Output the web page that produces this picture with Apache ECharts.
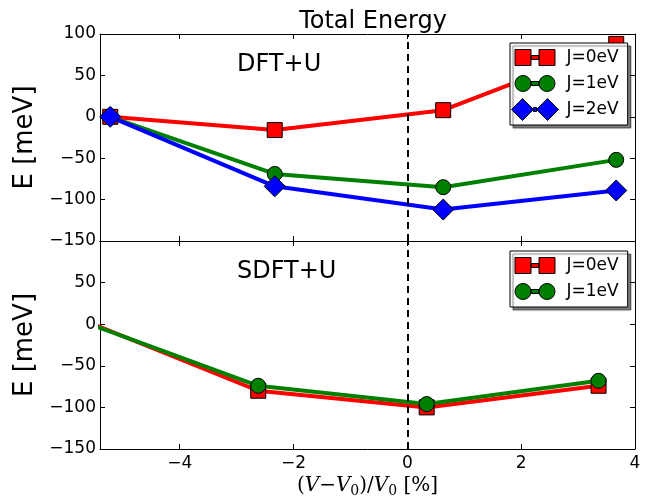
<!DOCTYPE html>
<html><head><meta charset="utf-8">
<script src="https://cdn.jsdelivr.net/npm/echarts@6/dist/echarts.min.js"></script>
<style>html,body{margin:0;padding:0;background:#fff}#c{width:647px;height:500px}</style>
</head><body><div id="c"></div>
<script>
// ---- data ----
const xTicks = [-4, -2, 0, 2, 4];
const yTicks = [-150, -100, -50, 0, 50, 100];
const legendNames = ['J=0eV', 'J=1eV', 'J=2eV'];
const xTop = [-5.22, -2.33, 0.63, 3.67];
const topJ0 = [0, -16, 8, 88];
const topJ1 = [0, -69, -85, -52];
const topJ2 = [0, -84, -112, -89];
const xBot = [-5.45, -2.62, 0.34, 3.36];
const botJ0 = [-2, -80, -100, -74];
const botJ1 = [-3, -74, -96, -68];

const FONT = 'DejaVu Sans';
const pairs = (xs, ys) => xs.map((x, i) => [x, ys[i]]);
const fmt = v => String(v).replace('-', '\u2212');

const grids = [
  {left: 100, right: 12, top: 34, height: 207, outerBoundsMode: 'none', containLabel: false},
  {left: 100, right: 12, top: 241, height: 208, outerBoundsMode: 'none', containLabel: false}
];

function xAx(gi, pos, showLabel, extra) {
  return Object.assign({
    type: 'value', gridIndex: gi, position: pos, min: -5.4, max: 4,
    axisLine: {show: true, onZero: false, lineStyle: {color: '#000', width: 1}},
    axisTick: {show: true, inside: true, length: 5, customValues: xTicks, lineStyle: {color: '#000'}},
    axisLabel: {show: showLabel, customValues: xTicks, formatter: fmt, color: '#000', fontFamily: FONT, fontSize: 17, margin: 6},
    splitLine: {show: false}
  }, extra || {});
}
function yAx(gi, pos, showLabel, extra) {
  return Object.assign({
    type: 'value', gridIndex: gi, position: pos, min: -150, max: 100, interval: 50,
    axisLine: {show: true, onZero: false, lineStyle: {color: '#000', width: 1}},
    axisTick: {show: true, inside: true, length: 5, lineStyle: {color: '#000'}},
    axisLabel: {show: showLabel, color: '#000', fontFamily: FONT, fontSize: 17, margin: 4,
      formatter: v => (gi === 1 && v === 100) ? '' : fmt(v)},
    splitLine: {show: false}
  }, extra || {});
}

const yName = {name: 'E [meV]', nameLocation: 'middle', nameGap: 62,
  nameTextStyle: {fontFamily: FONT, fontSize: 26, color: '#000'}};

const markers = [
  {symbol: 'rect', size: 15, color: '#ff0000'},
  {symbol: 'circle', size: 15, color: '#008000'},
  {symbol: 'diamond', size: 21, color: '#0000ff'}
];

function ser(k, gi, data) {
  const m = markers[k];
  return {
    type: 'line', name: legendNames[k], xAxisIndex: gi * 2, yAxisIndex: gi * 2,
    data: data, symbol: m.symbol, symbolSize: m.size, showSymbol: true,
    lineStyle: {color: m.color, width: 4}, itemStyle: {color: m.color, borderColor: '#000', borderWidth: 1},
    z: 2 + k, animation: false, clip: true
  };
}
function vline(gi) {
  return {
    type: 'line', xAxisIndex: gi * 2, yAxisIndex: gi * 2, data: [], silent: true,
    markLine: {symbol: 'none', silent: true, label: {show: false},
      lineStyle: {color: '#000', width: 2, type: [7, 5]}, data: [{xAxis: 0}]},
    z: 10, animation: false
  };
}

const BOX = 'M0,0 M47,22 ';
const icons = {
  'J=0eV': 'path://' + BOX + 'M3.5,3H19.5V19H3.5Z M19.5,9H27.5V13H19.5Z M27.5,3H43.5V19H27.5Z',
  'J=1eV': 'path://' + BOX + 'M11.5,3A8,8 0 1,1 11.5,19A8,8 0 1,1 11.5,3Z M19.5,9H27.5V13H19.5Z M35.5,3A8,8 0 1,1 35.5,19A8,8 0 1,1 35.5,3Z',
  'J=2eV': 'path://' + BOX + 'M0,11L11,0L22,11L11,22Z M22,9H25V13H22Z M25,11L36,0L47,11L36,22Z'
};
function legend(names, top) {
  return {
    orient: 'vertical', left: 510, top: top, itemWidth: 47, itemHeight: 22, itemGap: 3,
    padding: [3, 9, 4, 1], backgroundColor: '#fff', borderColor: '#000', borderWidth: 1, borderRadius: 0,
    shadowColor: 'rgba(0,0,0,0.5)', shadowBlur: 1, shadowOffsetX: 3, shadowOffsetY: 3,
    textStyle: {fontFamily: FONT, fontSize: 17, color: '#000', padding: [0, 0, 0, 3]},
    itemStyle: {borderColor: '#000', borderWidth: 1},
    selectedMode: false,
    data: names.map(n => ({name: n, icon: icons[n]})),
    z: 20
  };
}

const chart = echarts.init(document.getElementById('c'), null, {renderer: 'canvas'});
chart.setOption({
  backgroundColor: '#fff',
  animation: false,
  title: {text: 'Total Energy', left: 368, top: 5, textAlign: 'center',
    textStyle: {fontFamily: FONT, fontSize: 24, fontWeight: 'normal', color: '#000'}},
  grid: grids,
  xAxis: [
    xAx(0, 'bottom', false),
    xAx(0, 'top', false),
    xAx(1, 'bottom', true, {
      name: '{p|(}{v|V}{p|\u2212}{v|V}{s|0}{p|)/}{v|V}{s|0}{p| [%]}', nameLocation: 'middle', nameGap: 24,
      nameTextStyle: {rich: {
        p: {fontFamily: 'DejaVu Serif', fontSize: 20, color: '#000'},
        v: {fontFamily: 'DejaVu Serif', fontStyle: 'italic', fontSize: 20, color: '#000'},
        s: {fontFamily: 'DejaVu Serif', fontSize: 14, color: '#000', verticalAlign: 'bottom', padding: [11, 0, 0, 0]}
      }}
    }),
    xAx(1, 'top', false)
  ],
  yAxis: [
    yAx(0, 'left', true, yName),
    yAx(0, 'right', false),
    yAx(1, 'left', true, yName),
    yAx(1, 'right', false)
  ],
  legend: [legend(legendNames, 43), legend(legendNames.slice(0, 2), 251)],
  graphic: [
    {type: 'text', left: 237, top: 53, style: {text: 'DFT+U', font: '24px "DejaVu Sans"', fill: '#000'}},
    {type: 'text', left: 237, top: 260, style: {text: 'SDFT+U', font: '24px "DejaVu Sans"', fill: '#000'}}
  ],
  series: [
    ser(0, 0, pairs(xTop, topJ0)),
    ser(1, 0, pairs(xTop, topJ1)),
    ser(2, 0, pairs(xTop, topJ2)),
    vline(0),
    ser(0, 1, pairs(xBot, botJ0)),
    ser(1, 1, pairs(xBot, botJ1)),
    vline(1)
  ]
});
</script></body></html>
